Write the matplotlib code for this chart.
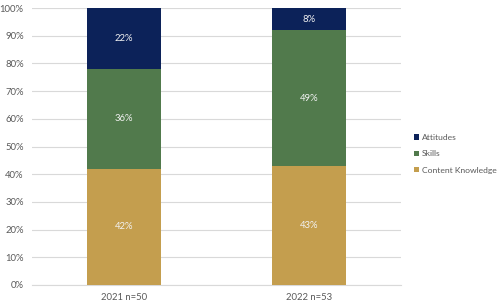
import matplotlib
matplotlib.use("Agg")
import matplotlib.pyplot as plt
import numpy as np

categories = ["2021 n=50", "2022 n=53"]
content_knowledge = [42, 43]
skills = [36, 49]
attitudes = [22, 8]
series_names = ["Content Knowledge", "Skills", "Attitudes"]
colors = ["#C49E4E", "#517A4C", "#0C2259"]

plt.rcParams['font.family'] = ['Lato', 'DejaVu Sans']

fig = plt.figure(figsize=(5.0, 3.04), dpi=100)
ax = fig.add_axes([32/500, 1 - 285/304, (401-32)/500, (285-8)/304])

x = np.arange(len(categories))
bottom = np.zeros(len(categories))
handles = []
for name, vals, c in zip(series_names, [content_knowledge, skills, attitudes], colors):
    vals = np.array(vals, dtype=float)
    b = ax.bar(x, vals, 0.4, bottom=bottom, color=c, label=name, zorder=3)
    handles.append(b)
    for xi, v, bt in zip(x, vals, bottom):
        ax.text(xi, bt + v / 2, f"{int(v)}%", ha="center", va="center",
                color="#F2F2F2", fontsize=6.8, zorder=4)
    bottom += vals

ax.set_xlim(-0.5, 1.5)
ax.set_ylim(0, 100)
ax.set_yticks(np.arange(0, 101, 10))
ax.set_yticklabels([f"{t}%" for t in range(0, 101, 10)])
ax.set_xticks(x)
ax.set_xticklabels(categories)
ax.tick_params(axis="both", length=0, labelsize=6.8, colors="#595959")
ax.tick_params(axis="y", pad=6)
ax.tick_params(axis="x", pad=6)
ax.grid(axis="y", color="#D9D9D9", linewidth=0.8, zorder=0)
for s in ["top", "right", "left"]:
    ax.spines[s].set_visible(False)
ax.spines["bottom"].set_color("#D9D9D9")

leg = fig.legend(handles=handles[::-1], labels=series_names[::-1],
                 loc="upper left", bbox_to_anchor=(414/500, 1 - 134/304),
                 frameon=False, fontsize=6.1, handlelength=0.6, handleheight=0.6,
                 handletextpad=0.35, labelspacing=1.1, borderaxespad=0, borderpad=0)
for t in leg.get_texts():
    t.set_color("#595959")

fig.savefig("out.png", dpi=100)
